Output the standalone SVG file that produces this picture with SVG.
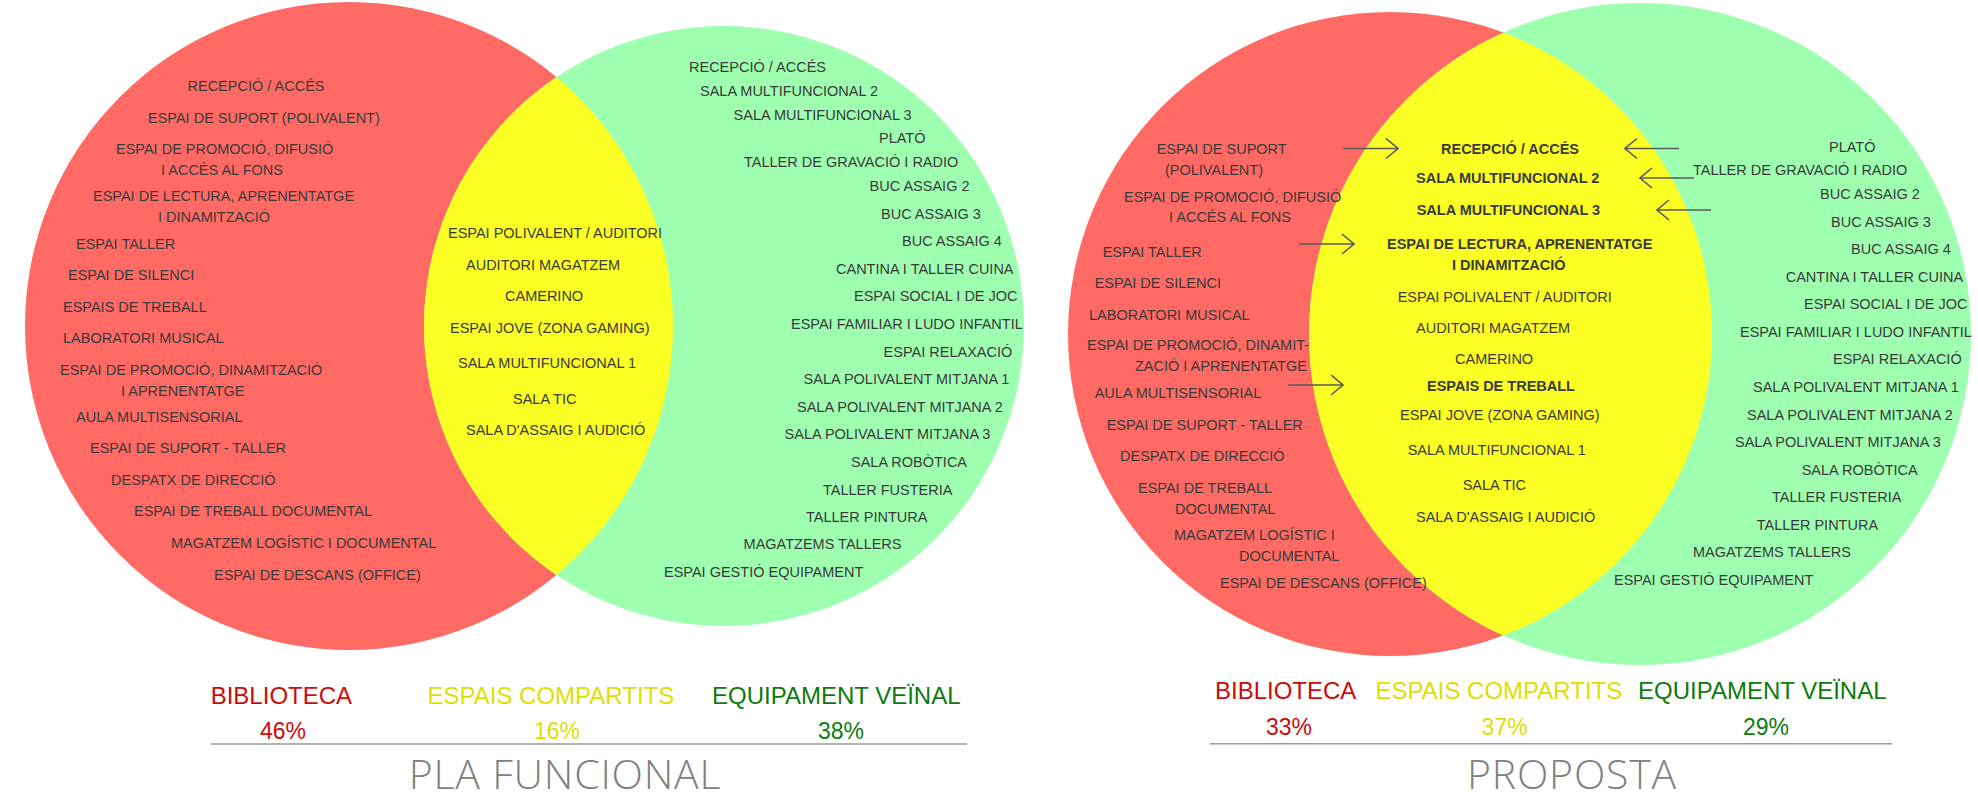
<svg xmlns="http://www.w3.org/2000/svg" width="1978" height="809" viewBox="0 0 1978 809">
<style>
.red{fill:#FF6A64}
.grn{fill:#9EFFB0}
.yel{fill:#FCFF24}
.t{font-family:"Liberation Sans",Arial,sans-serif;font-size:14.5px;fill:#3a3a3a}
.b{font-weight:bold}
.lg{font-family:"Liberation Sans",Arial,sans-serif;font-size:24px}
.pc{font-family:"Liberation Sans",Arial,sans-serif;font-size:23px}
.cr{fill:#CC0A0A}
.cy{fill:#DEDE00}
.cg{fill:#0E7A0E}
.ttl{font-family:"Open Sans","Liberation Sans",sans-serif;font-weight:300;font-size:41px;letter-spacing:0.8px;fill:#808080;text-anchor:middle}
.rule{stroke:#9a9a9a;stroke-width:1.5}
.arr{stroke:#58595B;stroke-width:1.6;fill:none;marker-end:url(#head)}
</style>
<defs>
<clipPath id="clipL"><circle cx="349" cy="326" r="324"/></clipPath>
<clipPath id="clipR"><circle cx="1390" cy="334" r="322"/></clipPath>
<marker id="head" viewBox="0 0 14 22" refX="13" refY="11" markerWidth="14" markerHeight="22" markerUnits="userSpaceOnUse" orient="auto">
<path d="M1,1 L13,11 L1,21" fill="none" stroke="#58595B" stroke-width="1.6"/>
</marker>
</defs>
<rect width="1978" height="809" fill="#ffffff"/>

<!-- PLA FUNCIONAL -->
<g id="pf-biblioteca">
<circle class="red" cx="349" cy="326" r="324"/>
</g>
<g id="pf-equipament">
<circle class="grn" cx="724" cy="326" r="300"/>
</g>
<g id="pf-compartits">
<circle class="yel" cx="724" cy="326" r="300" clip-path="url(#clipL)"/>
</g>
<g id="pf-biblioteca-labels" class="t">
<text x="187.5" y="91">RECEPCIÓ / ACCÉS</text>
<text x="148" y="123">ESPAI DE SUPORT (POLIVALENT)</text>
<text x="116" y="153.5">ESPAI DE PROMOCIÓ, DIFUSIÓ</text>
<text x="161" y="175">I ACCÉS AL FONS</text>
<text x="93" y="201">ESPAI DE LECTURA, APRENENTATGE</text>
<text x="158" y="221.6">I DINAMITZACIÓ</text>
<text x="76" y="249">ESPAI TALLER</text>
<text x="68" y="280">ESPAI DE SILENCI</text>
<text x="63" y="312">ESPAIS DE TREBALL</text>
<text x="63" y="343">LABORATORI MUSICAL</text>
<text x="60" y="375">ESPAI DE PROMOCIÓ, DINAMITZACIÓ</text>
<text x="121" y="396">I APRENENTATGE</text>
<text x="76" y="422">AULA MULTISENSORIAL</text>
<text x="90" y="453">ESPAI DE SUPORT - TALLER</text>
<text x="111" y="485">DESPATX DE DIRECCIÓ</text>
<text x="134" y="516">ESPAI DE TREBALL DOCUMENTAL</text>
<text x="171" y="548">MAGATZEM LOGÍSTIC I DOCUMENTAL</text>
<text x="214" y="580">ESPAI DE DESCANS (OFFICE)</text>
</g>
<g id="pf-compartits-labels" class="t">
<text x="448" y="238">ESPAI POLIVALENT / AUDITORI</text>
<text x="466" y="270">AUDITORI MAGATZEM</text>
<text x="505" y="301">CAMERINO</text>
<text x="450" y="333">ESPAI JOVE (ZONA GAMING)</text>
<text x="458" y="368">SALA MULTIFUNCIONAL 1</text>
<text x="513" y="404">SALA TIC</text>
<text x="466" y="435">SALA D'ASSAIG I AUDICIÓ</text>
</g>
<g id="pf-equipament-labels" class="t">
<text x="689" y="72">RECEPCIÓ / ACCÉS</text>
<text x="700" y="96">SALA MULTIFUNCIONAL 2</text>
<text x="733.6" y="119.5">SALA MULTIFUNCIONAL 3</text>
<text x="879" y="143">PLATÓ</text>
<text x="744" y="167">TALLER DE GRAVACIÓ I RADIO</text>
<text x="869.6" y="191">BUC ASSAIG 2</text>
<text x="881" y="218.7">BUC ASSAIG 3</text>
<text x="902" y="245.7">BUC ASSAIG 4</text>
<text x="836" y="274">CANTINA I TALLER CUINA</text>
<text x="854" y="301">ESPAI SOCIAL I DE JOC</text>
<text x="791" y="328.6">ESPAI FAMILIAR I LUDO INFANTIL</text>
<text x="883.6" y="356.5">ESPAI RELAXACIÓ</text>
<text x="803.6" y="384">SALA POLIVALENT MITJANA 1</text>
<text x="797" y="411.6">SALA POLIVALENT MITJANA 2</text>
<text x="784.6" y="439">SALA POLIVALENT MITJANA 3</text>
<text x="851" y="467">SALA ROBÒTICA</text>
<text x="823" y="494.6">TALLER FUSTERIA</text>
<text x="806" y="522">TALLER PINTURA</text>
<text x="743.6" y="548.6">MAGATZEMS TALLERS</text>
<text x="664" y="576.8">ESPAI GESTIÓ EQUIPAMENT</text>
</g>
<g id="pf-legend">
<text class="lg cr" x="210.7" y="703.6">BIBLIOTECA</text>
<text class="lg cy" x="427.5" y="703.6">ESPAIS COMPARTITS</text>
<text class="lg cg" x="712" y="703.6">EQUIPAMENT VEÏNAL</text>
<text class="pc cr" x="260" y="739">46%</text>
<text class="pc cy" x="534" y="739">16%</text>
<text class="pc cg" x="818" y="739">38%</text>
<line class="rule" x1="210.7" y1="744" x2="967" y2="744"/>
<text class="ttl" x="565" y="789">PLA FUNCIONAL</text>
</g>

<!-- PROPOSTA -->
<g id="pr-biblioteca">
<circle class="red" cx="1390" cy="334" r="322"/>
</g>
<g id="pr-equipament">
<circle class="grn" cx="1640" cy="334" r="331"/>
</g>
<g id="pr-compartits">
<circle class="yel" cx="1640" cy="334" r="331" clip-path="url(#clipR)"/>
</g>
<g id="pr-biblioteca-labels" class="t">
<text x="1156.7" y="153.5">ESPAI DE SUPORT</text>
<text x="1165" y="175">(POLIVALENT)</text>
<text x="1124" y="201.7">ESPAI DE PROMOCIÓ, DIFUSIÓ</text>
<text x="1169" y="221.6">I ACCÉS AL FONS</text>
<text x="1102.7" y="257">ESPAI TALLER</text>
<text x="1094.7" y="288">ESPAI DE SILENCI</text>
<text x="1089" y="319.5">LABORATORI MUSICAL</text>
<text x="1087" y="350">ESPAI DE PROMOCIÓ, DINAMIT-</text>
<text x="1135" y="371">ZACIÓ I APRENENTATGE</text>
<text x="1094.7" y="397.5">AULA MULTISENSORIAL</text>
<text x="1106.7" y="430">ESPAI DE SUPORT - TALLER</text>
<text x="1120" y="460.6">DESPATX DE DIRECCIÓ</text>
<text x="1138" y="492.5">ESPAI DE TREBALL</text>
<text x="1175" y="513.7">DOCUMENTAL</text>
<text x="1174" y="540">MAGATZEM LOGÍSTIC I</text>
<text x="1239" y="561.4">DOCUMENTAL</text>
<text x="1220" y="587.6">ESPAI DE DESCANS (OFFICE)</text>
</g>
<g id="pr-compartits-labels" class="t">
<text class="b" x="1441" y="153.5">RECEPCIÓ / ACCÉS</text>
<text class="b" x="1416" y="182.6">SALA MULTIFUNCIONAL 2</text>
<text class="b" x="1416.7" y="215">SALA MULTIFUNCIONAL 3</text>
<text class="b" x="1387" y="249">ESPAI DE LECTURA, APRENENTATGE</text>
<text class="b" x="1452" y="269.7">I DINAMITZACIÓ</text>
<text x="1397.7" y="302">ESPAI POLIVALENT / AUDITORI</text>
<text x="1416" y="333">AUDITORI MAGATZEM</text>
<text x="1455" y="364">CAMERINO</text>
<text class="b" x="1427" y="391">ESPAIS DE TREBALL</text>
<text x="1400" y="420">ESPAI JOVE (ZONA GAMING)</text>
<text x="1407.7" y="455">SALA MULTIFUNCIONAL 1</text>
<text x="1462.7" y="489.6">SALA TIC</text>
<text x="1416" y="522">SALA D'ASSAIG I AUDICIÓ</text>
</g>
<g id="pr-equipament-labels" class="t">
<text x="1829" y="151.5">PLATÓ</text>
<text x="1693" y="175">TALLER DE GRAVACIÓ I RADIO</text>
<text x="1820" y="198.8">BUC ASSAIG 2</text>
<text x="1831" y="227">BUC ASSAIG 3</text>
<text x="1851" y="254">BUC ASSAIG 4</text>
<text x="1785.7" y="281.8">CANTINA I TALLER CUINA</text>
<text x="1804" y="309">ESPAI SOCIAL I DE JOC</text>
<text x="1740" y="337">ESPAI FAMILIAR I LUDO INFANTIL</text>
<text x="1833" y="364">ESPAI RELAXACIÓ</text>
<text x="1753" y="392">SALA POLIVALENT MITJANA 1</text>
<text x="1747" y="420">SALA POLIVALENT MITJANA 2</text>
<text x="1735" y="447">SALA POLIVALENT MITJANA 3</text>
<text x="1801.7" y="475">SALA ROBÒTICA</text>
<text x="1772" y="502">TALLER FUSTERIA</text>
<text x="1756.7" y="530">TALLER PINTURA</text>
<text x="1693" y="557">MAGATZEMS TALLERS</text>
<text x="1614" y="585">ESPAI GESTIÓ EQUIPAMENT</text>
</g>
<g id="connectors">
<line class="arr" x1="1343" y1="148.5" x2="1398" y2="148.5"/>
<line class="arr" x1="1299" y1="244" x2="1354" y2="244"/>
<line class="arr" x1="1288" y1="385" x2="1343" y2="385"/>
<line class="arr" x1="1679" y1="148.5" x2="1625" y2="148.5"/>
<line class="arr" x1="1694" y1="178" x2="1640" y2="178"/>
<line class="arr" x1="1711" y1="210" x2="1657" y2="210"/>
</g>
<g id="pr-legend">
<text class="lg cr" x="1215" y="699.3">BIBLIOTECA</text>
<text class="lg cy" x="1375.5" y="699.3">ESPAIS COMPARTITS</text>
<text class="lg cg" x="1638" y="699.3">EQUIPAMENT VEÏNAL</text>
<text class="pc cr" x="1266" y="735">33%</text>
<text class="pc cy" x="1481.6" y="735">37%</text>
<text class="pc cg" x="1743" y="735">29%</text>
<line class="rule" x1="1210" y1="743.7" x2="1892" y2="743.7"/>
<text class="ttl" x="1572" y="789">PROPOSTA</text>
</g>
</svg>
